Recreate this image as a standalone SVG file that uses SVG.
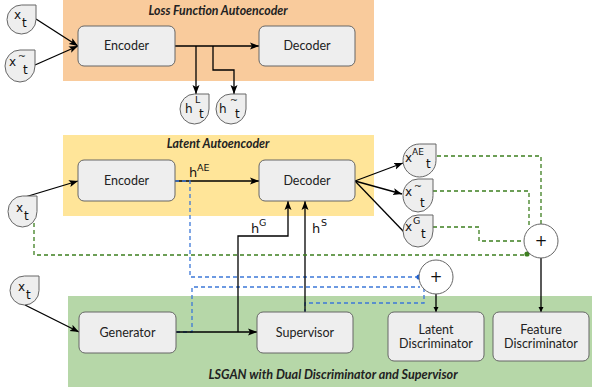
<svg xmlns="http://www.w3.org/2000/svg" width="592" height="392" viewBox="0 0 592 392">
<style>
.panel-title{font-family:Lato,"Liberation Sans",sans-serif;font-size:12.3px;font-weight:bold;font-style:italic;fill:#222;text-anchor:middle}
.box{fill:#eeeeee;stroke:#666666;stroke-width:1}
.lbl{font-family:Lato,"Liberation Sans",sans-serif;font-size:12.5px;fill:#222;text-anchor:middle}
.drop{fill:#eeeeee;stroke:#666666;stroke-width:1}
.m{font-family:"DejaVu Sans","Liberation Sans",sans-serif;font-size:12px;fill:#111}
.s{font-family:"DejaVu Sans","Liberation Sans",sans-serif;font-size:9.5px;fill:#111}
.h{font-family:"DejaVu Sans","Liberation Sans",sans-serif;font-size:13px;fill:#111}
.blk{fill:none;stroke:#000;stroke-width:1.3}
.blue{fill:none;stroke:#3c78d8;stroke-width:1.3;stroke-dasharray:4,3}
.grn{fill:none;stroke:#3d7f1f;stroke-width:1.3;stroke-dasharray:4,3}
.circ{fill:#fff;stroke:#666666;stroke-width:1}
.plus{font-family:"DejaVu Sans","Liberation Sans",sans-serif;font-size:15px;fill:#111;text-anchor:middle}
</style>
<defs>
<marker id="arr" markerUnits="userSpaceOnUse" markerWidth="10" markerHeight="8" refX="9" refY="4" orient="auto">
<path d="M0,0.5 L9,4 L0,7.5 L2,4 Z" fill="#000"/>
</marker>
<marker id="arrs" markerUnits="userSpaceOnUse" markerWidth="6" markerHeight="6" refX="5" refY="3" orient="auto">
<path d="M0,0.5 L5,3 L0,5.5 Z" fill="#000"/>
</marker>
</defs>
<rect width="592" height="392" fill="#fff"/>
<g id="panels">
<rect x="63" y="0" width="311" height="81" fill="#f9cb9c"/>
<text class="panel-title" x="218" y="15">Loss Function Autoencoder</text>
<rect x="63" y="135" width="311" height="81" fill="#ffe599"/>
<text class="panel-title" x="218" y="148">Latent Autoencoder</text>
<rect x="68" y="296" width="524" height="91" fill="#b6d7a8"/>
<text class="panel-title" x="333" y="379" style="font-size:12.6px">LSGAN with Dual Discriminator and Supervisor</text>
</g>
<g id="connectors">
<path class="blk" d="M36,19 L78,46" marker-end="url(#arr)"/>
<path class="blk" d="M35,65 L78,46" marker-end="url(#arr)"/>
<path class="blk" d="M175,46 L259,46" marker-end="url(#arr)"/>
<path class="blk" d="M196,46 L196,94" marker-end="url(#arr)"/>
<path class="blk" d="M213,46 L213,70 L234,70 L234,94" marker-end="url(#arr)"/>
<path class="blk" d="M25,197 L78,181" marker-end="url(#arr)"/>
<path class="blk" d="M175,181 L259,181" marker-end="url(#arr)"/>
<path class="blue" d="M175,181 L190,181 L190,277 L419,277"/>
<circle cx="419" cy="277" r="2.6" fill="#1a5fd6"/>
<path class="blue" d="M176,332 L192,332 L192,287 L420,287 M424,288 L424,303 L305,303 L305,313"/>
<path class="blk" d="M176,332 L257,332" marker-end="url(#arr)"/>
<path class="blk" d="M238,332 L238,236 L288,236 L288,201" marker-end="url(#arr)"/>
<path class="blk" d="M305,313 L305,201" marker-end="url(#arr)"/>
<path class="blk" d="M355,181 L403,163" marker-end="url(#arr)"/>
<path class="blk" d="M355,181 L402,194" marker-end="url(#arr)"/>
<path class="blk" d="M355,181 L404,232"/>
<path class="grn" d="M437,156 L541,156 L541,224"/>
<path class="grn" d="M433,191 L529,191 L529,228"/>
<path class="grn" d="M433,227 L479,227 L479,241 L524,241"/>
<path class="grn" d="M34,223 L34,255 L527,255"/>
<circle cx="527" cy="254" r="2.6" fill="#3d7f1f"/>
<path class="blk" d="M436,294 L436,312" marker-end="url(#arrs)"/>
<path class="blk" d="M541,258 L541,312" marker-end="url(#arrs)"/>
<path class="blk" d="M25,305 L79,332" marker-end="url(#arr)"/>
</g>
<text class="h" x="189" y="177">h</text><text class="s" x="197" y="171">AE</text>
<text class="h" x="251" y="233">h</text><text class="s" x="259" y="226">G</text>
<text class="h" x="312" y="233">h</text><text class="s" x="321" y="226">S</text>
<g id="enc1"><rect class="box" x="78" y="26" width="97" height="40" rx="6"/><text class="lbl" x="126.5" y="50">Encoder</text></g>
<g id="dec1"><rect class="box" x="259" y="26" width="96" height="40" rx="6"/><text class="lbl" x="307" y="50">Decoder</text></g>
<g id="enc2"><rect class="box" x="78" y="160" width="97" height="41" rx="6"/><text class="lbl" x="126.5" y="185">Encoder</text></g>
<g id="dec2"><rect class="box" x="259" y="160" width="96" height="41" rx="6"/><text class="lbl" x="307" y="185">Decoder</text></g>
<g id="gen"><rect class="box" x="79" y="312" width="97" height="41" rx="6"/><text class="lbl" x="127.5" y="337">Generator</text></g>
<g id="sup"><rect class="box" x="257" y="312" width="96" height="41" rx="6"/><text class="lbl" x="305" y="337">Supervisor</text></g>
<g id="latdisc"><rect class="box" x="388" y="312" width="96" height="49" rx="6"/><text class="lbl" x="436" y="334">Latent</text><text class="lbl" x="436" y="348">Discriminator</text></g>
<g id="featdisc"><rect class="box" x="493" y="312" width="96" height="49" rx="6"/><text class="lbl" x="541" y="334">Feature</text><text class="lbl" x="541" y="348">Discriminator</text></g>
<g id="plus1"><circle class="circ" cx="436" cy="277" r="17"/><text class="plus" x="436" y="282">+</text></g>
<g id="plus2"><circle class="circ" cx="541" cy="241" r="17"/><text class="plus" x="541" y="246">+</text></g>
<g id="xt1"><path class="drop" d="M21.5,5 L36,5 L36,19.5 A14.5,14.5 0 0 1 21.5,34 A14.5,14.5 0 0 1 7,19.5 A14.5,14.5 0 0 1 21.5,5 Z"/><text class="m" x="14" y="19">x</text><text class="m" x="22" y="27">t</text></g>
<g id="xtil1"><path class="drop" d="M20,50 L35,50 L35,66 A15,16 0 0 1 20,82 A15,16 0 0 1 5,66 A15,16 0 0 1 20,50 Z"/><text class="m" x="9" y="66">x</text><text class="s" x="18" y="59">~</text><text class="m" x="23" y="74">t</text></g>
<g id="hL"><path class="drop" d="M194.5,94 L209,94 L209,109 A14.5,15 0 0 1 194.5,124 A14.5,15 0 0 1 180,109 A14.5,15 0 0 1 194.5,94 Z"/><text class="m" x="185" y="113">h</text><text class="s" x="195" y="103">L</text><text class="m" x="199" y="118">t</text></g>
<g id="htil"><path class="drop" d="M231,94 L246,94 L246,109 A15,15 0 0 1 231,124 A15,15 0 0 1 216,109 A15,15 0 0 1 231,94 Z"/><text class="m" x="219" y="113">h</text><text class="s" x="230" y="103">~</text><text class="m" x="235" y="118">t</text></g>
<g id="xt2"><path class="drop" d="M22.5,196 L37,196 L37,211.5 A14.5,15.5 0 0 1 22.5,227 A14.5,15.5 0 0 1 8,211.5 A14.5,15.5 0 0 1 22.5,196 Z"/><text class="m" x="16" y="212">x</text><text class="m" x="24" y="220">t</text></g>
<g id="xAE"><path class="drop" d="M419.5,144 L436,144 L436,160.5 A16.5,16.5 0 0 1 419.5,177 A16.5,16.5 0 0 1 403,160.5 A16.5,16.5 0 0 1 419.5,144 Z"/><text class="m" x="405" y="162">x</text><text class="s" x="412" y="155" style="font-size:9px">AE</text><text class="m" x="426" y="168">t</text></g>
<g id="xtil2"><path class="drop" d="M418,179 L433,179 L433,195.5 A15,16.5 0 0 1 418,212 A15,16.5 0 0 1 403,195.5 A15,16.5 0 0 1 418,179 Z"/><text class="m" x="405" y="196">x</text><text class="s" x="414" y="189">~</text><text class="m" x="420" y="207">t</text></g>
<g id="xG"><path class="drop" d="M418,215 L433,215 L433,231 A15,16 0 0 1 418,247 A15,16 0 0 1 403,231 A15,16 0 0 1 418,215 Z"/><text class="m" x="405" y="231">x</text><text class="s" x="413" y="224">G</text><text class="m" x="421" y="238">t</text></g>
<g id="xt3"><path class="drop" d="M24.5,276 L39,276 L39,290.5 A14.5,14.5 0 0 1 24.5,305 A14.5,14.5 0 0 1 10,290.5 A14.5,14.5 0 0 1 24.5,276 Z"/><text class="m" x="18" y="291">x</text><text class="m" x="26" y="299">t</text></g>
</svg>
